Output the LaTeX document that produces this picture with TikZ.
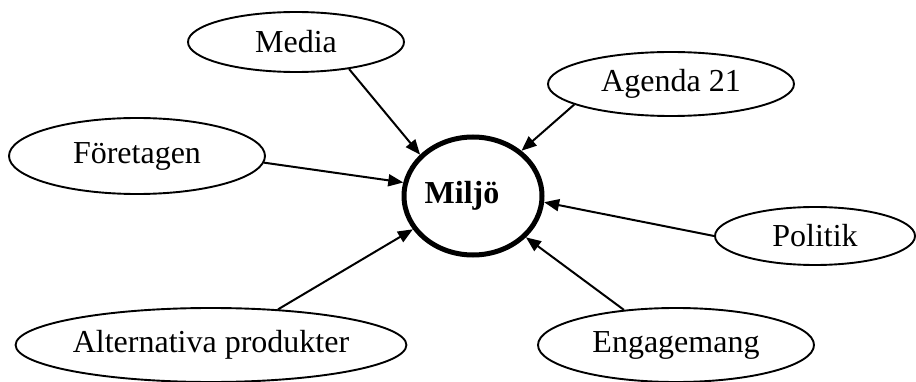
\documentclass[tikz,border=0pt]{standalone}
\usepackage{fontspec}
\setmainfont{Liberation Serif}
\usetikzlibrary{shapes.geometric,arrows.meta}
\tikzset{
  factor/.style={ellipse, draw, line width=1.9pt, inner sep=0pt,
    font=\fontsize{32}{36}\selectfont},
  core/.style={ellipse, draw, line width=5pt, inner sep=0pt,
    font=\fontsize{32}{36}\selectfont\bfseries},
  influence/.style={line width=2pt, -{Triangle[length=15pt,width=12pt]}}
}
\begin{document}
\begin{tikzpicture}[x=1pt,y=-1pt]
  \useasboundingbox (0,0) rectangle (916,382);
  % central concept (label sits a little left of centre)
  \node[core, minimum width=138pt, minimum height=118pt] (miljo) at (473,196) {Miljö\hspace*{22pt}};
  % surrounding factors
  \node[factor, minimum width=216pt, minimum height=60pt] (media) at (296,42) {Media};
  \node[factor, minimum width=246pt, minimum height=64pt] (agenda) at (671,84) {Agenda 21};
  \node[factor, minimum width=256pt, minimum height=76pt] (foretag) at (137,156) {Företagen};
  \node[factor, minimum width=200pt, minimum height=58pt] (politik) at (815,236) {Politik};
  \node[factor, minimum width=350pt, minimum height=74pt] (alt) at (211,345) {Alternativa produkter};
  \node[factor, minimum width=276pt, minimum height=74pt] (engag) at (676,345) {Engagemang};
  % influences pointing at the centre
  \draw[influence] (media.-27) -- (miljo.142);
  \draw[influence] (agenda.192) -- (miljo.43);
  \draw[influence] (foretag.-3) -- (miljo.169);
  \draw[influence] (politik.180) -- (miljo.-5);
  \draw[influence] (alt.28) -- (miljo.209);
  \draw[influence] (engag.146) -- (miljo.-38);
\end{tikzpicture}
\end{document}
